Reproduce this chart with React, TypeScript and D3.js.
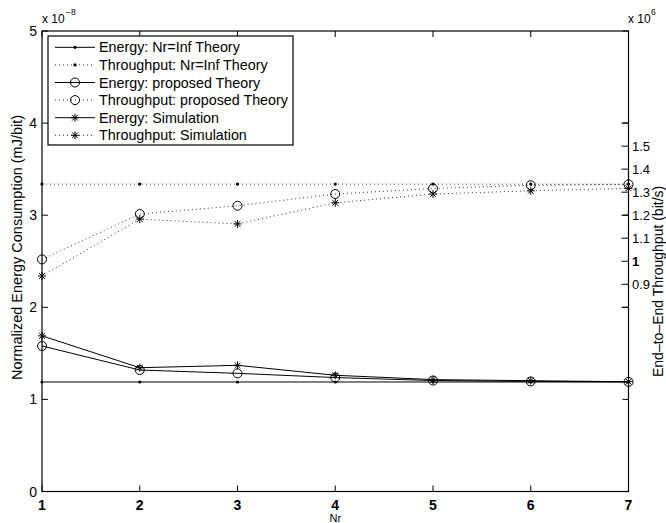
import React from "react";
import * as d3 from "d3";

const nr = [1, 2, 3, 4, 5, 6, 7];
const energyInf = [1.189, 1.189, 1.189, 1.189, 1.189, 1.189, 1.189];
const energyProposed = [1.58, 1.319, 1.283, 1.237, 1.205, 1.195, 1.19];
const energySim = [1.69, 1.344, 1.37, 1.262, 1.215, 1.203, 1.192];
const tputInf = [1.335, 1.335, 1.335, 1.335, 1.335, 1.335, 1.335];
const tputProposed = [1.008, 1.205, 1.241, 1.292, 1.316, 1.33, 1.334];
const tputSim = [0.936, 1.183, 1.162, 1.254, 1.292, 1.306, 1.317];

const xTicks = [1, 2, 3, 4, 5, 6, 7];
const leftTicks = [0, 1, 2, 3, 4, 5];
const rightTicks = [0.9, 1, 1.1, 1.2, 1.3, 1.4, 1.5];
const rightTickLabels = ["0.9", "1", "1.1", "1.2", "1.3", "1.4", "1.5"];
const rightExtraTicks = [0.8, 1.6];

const legendLabels = [
  "Energy: Nr=Inf Theory",
  "Throughput: Nr=Inf Theory",
  "Energy: proposed Theory",
  "Throughput: proposed Theory",
  "Energy: Simulation",
  "Throughput: Simulation",
];

const W = 666;
const H = 523;
const L = 42;
const R = 628.5;
const T = 31;
const B = 491.5;
const FONT = "'Liberation Sans', Arial, Helvetica, sans-serif";

type Marker = "dot" | "circle" | "star";

function MarkerShape({ type, x, y }: { type: Marker; x: number; y: number }) {
  if (type === "dot") return <circle cx={x} cy={y} r={1.6} fill="#000" />;
  if (type === "circle")
    return <circle cx={x} cy={y} r={4.5} fill="none" stroke="#000" strokeWidth={1} />;
  const r = 4;
  const d = r * 0.72;
  return (
    <g stroke="#000" strokeWidth={1}>
      <line x1={x - r} y1={y} x2={x + r} y2={y} />
      <line x1={x} y1={y - r} x2={x} y2={y + r} />
      <line x1={x - d} y1={y - d} x2={x + d} y2={y + d} />
      <line x1={x - d} y1={y + d} x2={x + d} y2={y - d} />
    </g>
  );
}

export default function App() {
  const x = d3.scaleLinear().domain([1, 7]).range([L, R]);
  const yL = d3.scaleLinear().domain([0, 5]).range([B, T]);
  const yR = d3.scaleLinear().domain([0, 2]).range([B, T]);

  const series: { vals: number[]; scale: any; dotted: boolean; marker: Marker }[] = [
    { vals: energyInf, scale: yL, dotted: false, marker: "dot" },
    { vals: tputInf, scale: yR, dotted: true, marker: "dot" },
    { vals: energyProposed, scale: yL, dotted: false, marker: "circle" },
    { vals: tputProposed, scale: yR, dotted: true, marker: "circle" },
    { vals: energySim, scale: yL, dotted: false, marker: "star" },
    { vals: tputSim, scale: yR, dotted: true, marker: "star" },
  ];

  const tl = 6;
  const legX = 48;
  const legY = 36;
  const legW = 245;
  const legH = 109;
  const rowH = 17.6;

  return (
    <svg
      width={W}
      height={H}
      style={{ position: "absolute", left: 0, top: 0, background: "#fff" }}
      fontFamily={FONT}
    >
      <rect x={0} y={0} width={W} height={H} fill="#fff" />
      {series.map((s, i) => {
        const line = d3
          .line<number>()
          .x((_, j) => x(nr[j]))
          .y((v) => s.scale(v));
        return (
          <g key={i}>
            <path
              d={line(s.vals) || ""}
              fill="none"
              stroke="#000"
              strokeWidth={1}
              strokeDasharray={s.dotted ? "1,3" : undefined}
              opacity={s.dotted ? 0.8 : 1}
            />
            {s.vals.map((v, j) => (
              <MarkerShape key={j} type={s.marker} x={x(nr[j])} y={s.scale(v)} />
            ))}
          </g>
        );
      })}

      <rect x={L} y={T} width={R - L} height={B - T} fill="none" stroke="#000" strokeWidth={1.2} />

      {xTicks.map((t) => (
        <g key={"x" + t}>
          <line x1={x(t)} y1={B} x2={x(t)} y2={B - tl} stroke="#000" />
          <line x1={x(t)} y1={T} x2={x(t)} y2={T + tl} stroke="#000" />
          <text x={x(t)} y={509.5} fontSize={14} fontWeight="bold" textAnchor="middle">
            {t}
          </text>
        </g>
      ))}
      <text x={(L + R) / 2} y={522} fontSize={11} textAnchor="middle">
        Nr
      </text>

      {leftTicks.map((t) => (
        <g key={"l" + t}>
          <line x1={L} y1={yL(t)} x2={L + tl} y2={yL(t)} stroke="#000" />
          <line x1={R} y1={yL(t)} x2={R - tl} y2={yL(t)} stroke="#000" />
          <text x={37} y={yL(t) + 5} fontSize={14} textAnchor="end">
            {t}
          </text>
        </g>
      ))}
      <text x={42} y={23} fontSize={12}>
        x 10
      </text>
      <text x={66} y={15} fontSize={8.5}>
        −8
      </text>
      <text transform={`translate(22,380) rotate(-90)`} fontSize={14.5} textAnchor="start">
        Normalized Energy Consumption (mJ/bit)
      </text>

      {rightTicks.map((t, i) => (
        <g key={"r" + t}>
          <line x1={R} y1={yR(t)} x2={R - 7} y2={yR(t)} stroke="#000" />
          <text
            x={632}
            y={yR(t) + 4.5}
            fontSize={13}
            fontWeight={t === 1 ? "bold" : "normal"}
          >
            {rightTickLabels[i]}
          </text>
        </g>
      ))}
      {rightExtraTicks.map((t) => (
        <line key={"re" + t} x1={R} y1={yR(t)} x2={R - 7} y2={yR(t)} stroke="#000" />
      ))}
      <text x={628} y={23} fontSize={12}>
        x 10
      </text>
      <text x={651} y={15} fontSize={8.5}>
        6
      </text>
      <text transform={`translate(662.5,377) rotate(-90)`} fontSize={14} textAnchor="start">
        End–to–End Throughput (bit/s)
      </text>

      <rect x={legX} y={legY} width={legW} height={legH} fill="#fff" stroke="#000" strokeWidth={1.2} />
      {legendLabels.map((lab, i) => {
        const cy = legY + 11.3 + i * rowH;
        const s = series[i];
        return (
          <g key={"lg" + i}>
            <line
              x1={55}
              y1={cy}
              x2={95}
              y2={cy}
              stroke="#000"
              strokeDasharray={s.dotted ? "1,3" : undefined}
              opacity={s.dotted ? 0.8 : 1}
            />
            <MarkerShape type={s.marker} x={75} y={cy} />
            <text x={99} y={cy + 5} fontSize={14.3}>
              {lab}
            </text>
          </g>
        );
      })}
    </svg>
  );
}
